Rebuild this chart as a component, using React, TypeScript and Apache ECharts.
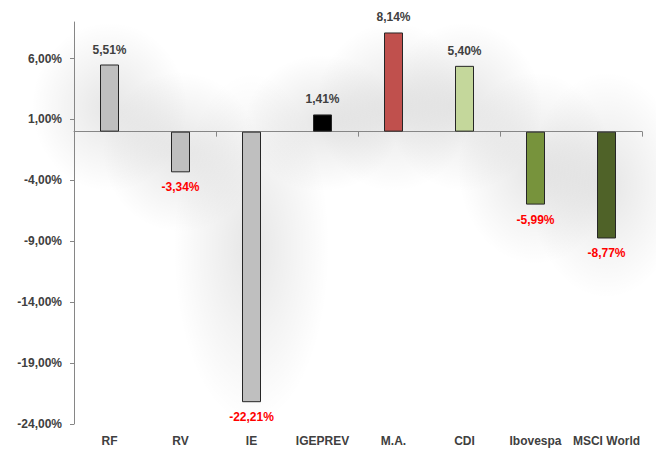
import React, { useEffect, useRef } from "react";
import * as echarts from "echarts";

const categories = ["RF", "RV", "IE", "IGEPREV", "M.A.", "CDI", "Ibovespa", "MSCI World"];
const values = [5.51, -3.34, -22.21, 1.41, 8.14, 5.4, -5.99, -8.77];
const barColors = ["#BFBFBF", "#BFBFBF", "#BFBFBF", "#000000", "#C0504D", "#C4D79B", "#77933C", "#4F6228"];
const yTicks = [-24, -19, -14, -9, -4, 1, 6];

const FONT = "'Liberation Sans', Arial, sans-serif";
const fmt = (v: number) => v.toFixed(2).replace(".", ",") + "%";

export default function App() {
  const ref = useRef<HTMLDivElement>(null);
  useEffect(() => {
    if (!ref.current) return;
    const chart = echarts.init(ref.current, undefined, { renderer: "svg" });
    const data = values.map((v, i) => ({
      value: v,
      itemStyle: { color: barColors[i] },
      label: {
        position: v >= 0 ? "top" : "bottom",
        color: v >= 0 ? "#404040" : "#FF0000",
      },
    }));
    chart.setOption({
      animation: false,
      backgroundColor: "#ffffff",
      grid: { left: 74, right: 14, top: 22, bottom: 25, containLabel: false },
      xAxis: [
        {
          type: "category",
          data: categories,
          position: "bottom",
          axisLine: { show: true, onZero: true, lineStyle: { color: "#868686", width: 1 } },
          axisTick: { show: true, length: 5, inside: false, lineStyle: { color: "#868686" } },
          axisLabel: { show: false },
          splitLine: { show: false },
        },
        {
          type: "category",
          data: categories,
          position: "bottom",
          axisLine: { show: false, onZero: false },
          axisTick: { show: false },
          axisLabel: {
            show: true,
            interval: 0,
            margin: 11,
            fontFamily: FONT,
            fontWeight: "bold",
            fontSize: 12,
            color: "#404040",
          },
          splitLine: { show: false },
        },
      ],
      yAxis: {
        type: "value",
        min: -24,
        max: 9,
        interval: 5,
        axisLine: { show: true, onZero: false, lineStyle: { color: "#868686", width: 1 } },
        axisTick: { show: true, length: 4, customValues: yTicks, lineStyle: { color: "#868686" } },
        axisLabel: {
          customValues: yTicks,
          margin: 12,
          fontFamily: FONT,
          fontWeight: "bold",
          fontSize: 12,
          color: "#404040",
          formatter: (v: number) => fmt(v),
        },
        splitLine: { show: false },
      },
      series: [
        {
          type: "bar",
          xAxisIndex: 0,
          data,
          barWidth: 19,
          z: 3,
          itemStyle: {
            borderColor: "#262626",
            borderWidth: 1,
          },
          label: {
            show: true,
            distance: 9,
            fontFamily: FONT,
            fontWeight: "bold",
            fontSize: 12,
            formatter: (p: any) => fmt(p.value),
          },
        },
      ],
    });

    // soft glow behind each bar, positioned through the chart's own scales
    const plotTop = chart.convertToPixel({ yAxisIndex: 0 }, 9) as number;
    const plotBottom = chart.convertToPixel({ yAxisIndex: 0 }, -24) as number;
    const glows = values.map((v, i) => {
      const top = chart.convertToPixel({ gridIndex: 0 }, [i, v]) as number[];
      const base = chart.convertToPixel({ gridIndex: 0 }, [i, 0]) as number[];
      let y0 = Math.min(top[1], base[1]) - 60;
      let y1 = Math.max(top[1], base[1]) + 60;
      if (y0 < plotTop) y0 = plotTop;
      if (y1 > plotBottom) y1 = plotBottom;
      return {
        type: "ellipse",
        z: -10,
        silent: true,
        shape: { cx: top[0], cy: (y0 + y1) / 2, rx: 78, ry: (y1 - y0) / 2 },
        style: {
          fill: new echarts.graphic.RadialGradient(0.5, 0.5, 0.5, [
            { offset: 0, color: "rgba(0,0,0,0.10)" },
            { offset: 0.5, color: "rgba(0,0,0,0.05)" },
            { offset: 1, color: "rgba(0,0,0,0)" },
          ]),
        },
      };
    });
    chart.setOption({ graphic: glows });
    return () => chart.dispose();
  }, []);
  return <div ref={ref} style={{ width: 656, height: 449, position: "absolute", left: 0, top: 0 }} />;
}
